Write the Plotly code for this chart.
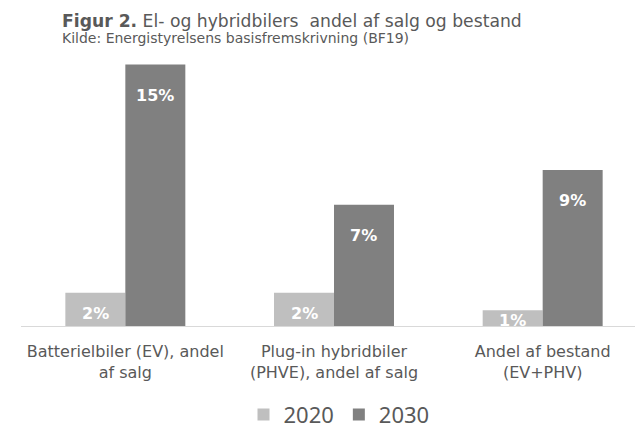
import plotly.graph_objects as go

categories = ["Batterielbiler (EV), andel<br>af salg",
              "Plug-in hybridbiler<br>(PHVE), andel af salg",
              "Andel af bestand<br>(EV+PHV)"]
series_names = ["2020", "2030"]
values_2020 = [1.9, 1.9, 0.9]
values_2030 = [15.0, 6.95, 8.95]

W, H = 643, 432
ml, mr, mt, mb = 13, 4, 39, 104
plot_w = W - ml - mr
plot_h = H - mt - mb
y_max = 16
bargap = 0.425
px_per_unit = plot_h / y_max
cat_px = plot_w / len(categories)
bar_px = cat_px * (1 - bargap) / 2

colors = ["#BFBFBF", "#808080"]
text_color = "#595959"

fig = go.Figure()
for name, vals, col in zip(series_names, [values_2020, values_2030], colors):
    fig.add_trace(go.Bar(x=categories, y=vals, name=name, marker_color=col,
                         marker_line_width=0, hoverinfo="skip"))

annotations = []
for i, vals in enumerate([values_2020, values_2030]):
    shift = (i - 0.5) * bar_px
    for c, v in zip(categories, vals):
        h_px = v * px_per_unit
        off = min(31, 0.6 * h_px)
        annotations.append(dict(x=c, y=v, xref="x", yref="y", text=f"{v:.0f}%",
                                showarrow=False, xshift=shift, yshift=-off,
                                yanchor="middle", xanchor="center",
                                font=dict(family="DejaVu Sans", size=16, color="white",
                                          weight="bold")))

def px_x(px):
    return (px - ml) / plot_w

def px_y(py):
    return (H - mb - py) / plot_h

annotations.append(dict(xref="paper", yref="paper", x=px_x(52), y=px_y(12),
                        xanchor="left", yanchor="middle", showarrow=False,
                        text="<b>Figur 2.</b> El- og hybridbilers  andel af salg og bestand",
                        font=dict(family="DejaVu Sans", size=17.2, color=text_color)))
annotations.append(dict(xref="paper", yref="paper", x=px_x(52), y=px_y(30),
                        xanchor="left", yanchor="middle", showarrow=False,
                        text="Kilde: Energistyrelsens basisfremskrivning (BF19)",
                        font=dict(family="DejaVu Sans", size=14, color=text_color)))

fig.update_layout(
    width=W, height=H,
    margin=dict(l=ml, r=mr, t=mt, b=mb, pad=0),
    paper_bgcolor="white", plot_bgcolor="white",
    barmode="group", bargap=bargap, bargroupgap=0,
    showlegend=True,
    legend=dict(orientation="h", x=px_x(331), xanchor="center",
                y=px_y(420), yanchor="middle",
                font=dict(family="Noto Sans", size=22, color=text_color),
                itemclick=False, itemdoubleclick=False),
    annotations=annotations,
    xaxis=dict(showline=True, linecolor="#D9D9D9", linewidth=1, ticks="",
               showgrid=False, zeroline=False, ticklabelstandoff=11,
               tickfont=dict(family="DejaVu Sans", size=16, color=text_color)),
    yaxis=dict(range=[0, y_max], visible=False, showgrid=False, zeroline=False),
)

fig.write_html("out.html")
